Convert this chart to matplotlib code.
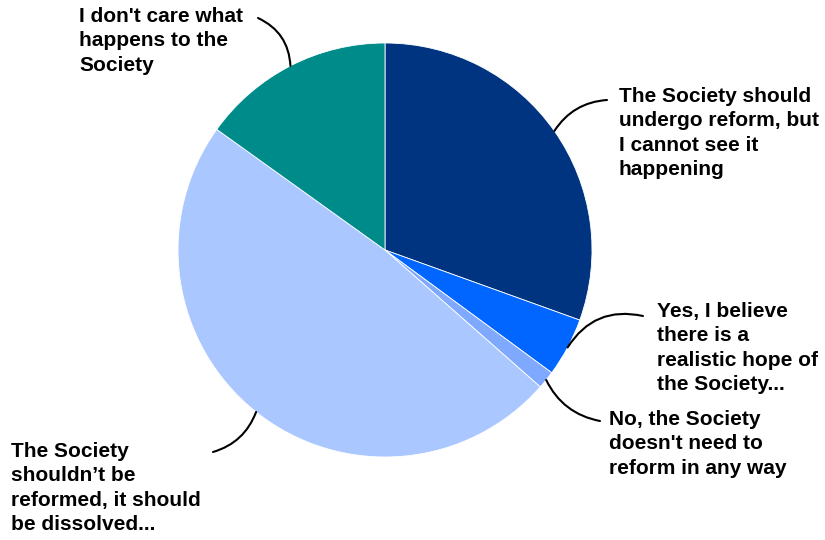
import matplotlib.pyplot as plt
import numpy as np

labels = [
    "The Society should\nundergo reform, but\nI cannot see it\nhappening",
    "Yes, I believe\nthere is a\nrealistic hope of\nthe Society...",
    "No, the Society\ndoesn't need to\nreform in any way",
    "The Society\nshouldn\u2019t be\nreformed, it should\nbe dissolved...",
    "I don't care what\nhappens to the\nSociety",
]
shares = [30.5, 4.6, 1.4, 48.4, 15.1]
colors = ["#003380", "#0066ff", "#7fa8ff", "#aac8ff", "#008b8b"]

# label placement (figure pixels, top-left of text) and leader line end
text_pos = [(619, 87), (657, 302), (609, 410), (11, 442), (79, 7)]
line_end = [(607, 100), (643, 316), (600, 421), (213, 452), (258, 18)]
line_rad = [0.25, 0.35, -0.25, 0.25, -0.3]

W, H = 825, 540
cx, cy, r = 385, 250, 207

fig = plt.figure(figsize=(W / 100, H / 100), dpi=100)
plt.rcParams['font.family'] = ['Liberation Sans', 'DejaVu Sans']
ax = fig.add_axes([(cx - r) / W, (H - cy - r) / H, 2 * r / W, 2 * r / H])
wedges, _ = ax.pie(shares, colors=colors, startangle=90, counterclock=False,
                   wedgeprops=dict(edgecolor="white", linewidth=0.6))
ax.set_xlim(-1, 1)
ax.set_ylim(-1, 1)
ax.set_aspect("equal")
ax.axis("off")

for w, lab, tp, le, rad in zip(wedges, labels, text_pos, line_end, line_rad):
    ang = np.deg2rad((w.theta1 + w.theta2) / 2)
    xy = (np.cos(ang), np.sin(ang))
    ax.annotate("", xy=xy, xycoords="data",
                xytext=(le[0], H - le[1]), textcoords="figure pixels",
                arrowprops=dict(arrowstyle="-", color="black", lw=1.5,
                                shrinkA=0, shrinkB=0,
                                connectionstyle=f"arc3,rad={rad}"))
    fig.text(tp[0] / W, (H - tp[1]) / H, lab, ha="left", va="top",
             fontsize=15, fontweight="bold", linespacing=1.36)

fig.savefig("out.png", dpi=100)
